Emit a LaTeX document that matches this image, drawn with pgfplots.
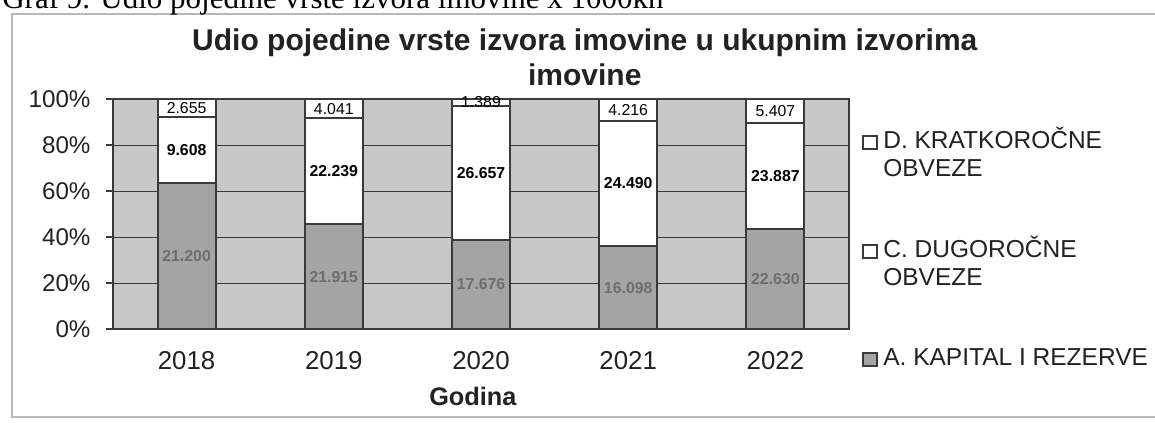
\documentclass[border=0pt]{standalone}
\usepackage{pgfplots}
\pgfplotsset{compat=1.18}
\usepackage{pgfplotstable}
\usepackage{fontspec}
\setmainfont{Liberation Sans}
\newfontfamily\timesfont{Liberation Serif}
\definecolor{plotbg}{HTML}{C8C8C8}
\definecolor{barA}{HTML}{A4A4A4}
\definecolor{edge}{HTML}{3A3A3A}
\definecolor{txt}{HTML}{222222}
\definecolor{framec}{HTML}{B8B8B8}
\definecolor{labA}{HTML}{6E6E6E}

% pct = share in percent of total; mid = middle of the segment; lab = value in thousands kn
\pgfplotstableread{
x pct mid lab
0 63.354 31.677 21.200
1 45.472 22.736 21.915
2 38.660 19.330 17.676
3 35.930 17.965 16.098
4 43.583 21.792 22.630
}\dataA
\pgfplotstableread{
x pct mid lab
0 28.712 77.710 9.608
1 46.144 68.544 22.239
2 58.302 67.811 26.657
3 54.660 63.260 24.490
4 46.004 66.585 23.887
}\dataC
\pgfplotstableread{
x pct mid lab
0 7.934 96.033 2.655
1 8.385 95.808 4.041
2 3.038 98.481 1.389
3 9.410 95.295 4.216
4 10.413 94.794 5.407
}\dataD

\pgfplotsset{
  commonaxis/.style={
    at={(67.8pt,-197.4pt)}, anchor=south west,
    width=441.6pt, height=138pt, scale only axis,
    xmin=-0.5, xmax=4.5, ymin=0, ymax=100,
  },
  labplot/.style={draw=none, mark=none, nodes near coords, point meta=explicit symbolic,
    every node near coord/.append style={anchor=center, inner sep=0pt,
      font=\bfseries\fontsize{9.5}{10}\selectfont}},
}

\begin{document}
\begin{tikzpicture}
\useasboundingbox (0,0) rectangle (693pt,-253.8pt);
\fill[white] (0,0) rectangle (693pt,-253.8pt);
\draw[framec, line width=0.9pt] (7.2pt,-8.4pt) rectangle (705pt,-250.2pt);
\node[anchor=base west, inner sep=0pt, text=black, font=\timesfont\fontsize{18.6}{20}\selectfont]
  at (1.2pt,-5.4pt) {Graf 9. Udio pojedine vrste izvora imovine x 1000kn};

\begin{axis}[
  commonaxis,
  ybar stacked, bar width=34.8pt,
  axis background/.style={fill=plotbg},
  axis line style={edge, line width=0.8pt},
  xtick={0,1,2,3,4},
  xticklabels={2018,2019,2020,2021,2022},
  x tick style={draw=none},
  xtick pos=bottom, ytick pos=left,
  extra x ticks={-0.5,0.5,1.5,2.5,3.5,4.5},
  extra x tick labels={},
  extra x tick style={grid=none, tick align=outside, major tick length=5pt,
    tick style={draw=edge, line width=0.8pt}},
  xticklabel style={font=\fontsize{15.5}{16}\selectfont, text=txt, yshift=-6pt},
  ytick={0,20,40,60,80,100},
  yticklabels={0\%,20\%,40\%,60\%,80\%,100\%},
  yticklabel style={font=\fontsize{14.5}{16}\selectfont, text=txt, xshift=-6pt},
  y tick style={draw=edge, line width=0.8pt},
  tick align=outside, major tick length=4pt,
  ymajorgrids, grid style={edge, line width=0.6pt},
  xlabel={Godina},
  xlabel style={at={(axis description cs:0.489,0)}, anchor=base, yshift=-45.6pt,
    font=\bfseries\fontsize{15.2}{16}\selectfont, text=txt},
  title={Udio pojedine vrste izvora imovine u ukupnim izvorima\\imovine},
  title style={at={(axis description cs:0.641,1)}, anchor=north, yshift=36.6pt,
    align=center, inner sep=0pt, font=\bfseries\fontsize{18}{21}\selectfont, text=txt},
]
\addplot[fill=barA, draw=edge, line width=1.1pt] table[x=x, y=pct] {\dataA};
\addplot[fill=white, draw=edge, line width=1.1pt] table[x=x, y=pct] {\dataC};
\addplot[fill=white, draw=edge, line width=1.1pt] table[x=x, y=pct] {\dataD};
\end{axis}

% data labels, centred in each segment
\begin{axis}[commonaxis, hide axis]
\addplot[labplot, every node near coord/.append style={text=labA}]
  table[x=x, y=mid, meta=lab] {\dataA};
\addplot[labplot, every node near coord/.append style={text=black}]
  table[x=x, y=mid, meta=lab] {\dataC};
\addplot[labplot, every node near coord/.append style={text=black,
    font=\fontsize{9.5}{10}\selectfont}]
  table[x=x, y=mid, meta=lab] {\dataD};
\end{axis}

% legend
\begin{scope}[every node/.style={anchor=base west, inner sep=0pt, text=txt,
    font=\fontsize{14.7}{16.8}\selectfont}]
\draw[edge, line width=0.8pt, fill=white] (517.8pt,-81.6pt) rectangle (526.2pt,-89.4pt);
\node at (529.8pt,-89.4pt) {D. KRATKOROČNE};
\node at (529.8pt,-106.2pt) {OBVEZE};
\draw[edge, line width=0.8pt, fill=white] (517.8pt,-147pt) rectangle (526.2pt,-154.8pt);
\node at (529.8pt,-154.2pt) {C. DUGOROČNE};
\node at (529.8pt,-171pt) {OBVEZE};
\draw[edge, line width=0.8pt, fill=barA] (517.8pt,-211.8pt) rectangle (526.2pt,-219.6pt);
\node at (529.8pt,-219pt) {A. KAPITAL I REZERVE};
\end{scope}
\end{tikzpicture}
\end{document}
